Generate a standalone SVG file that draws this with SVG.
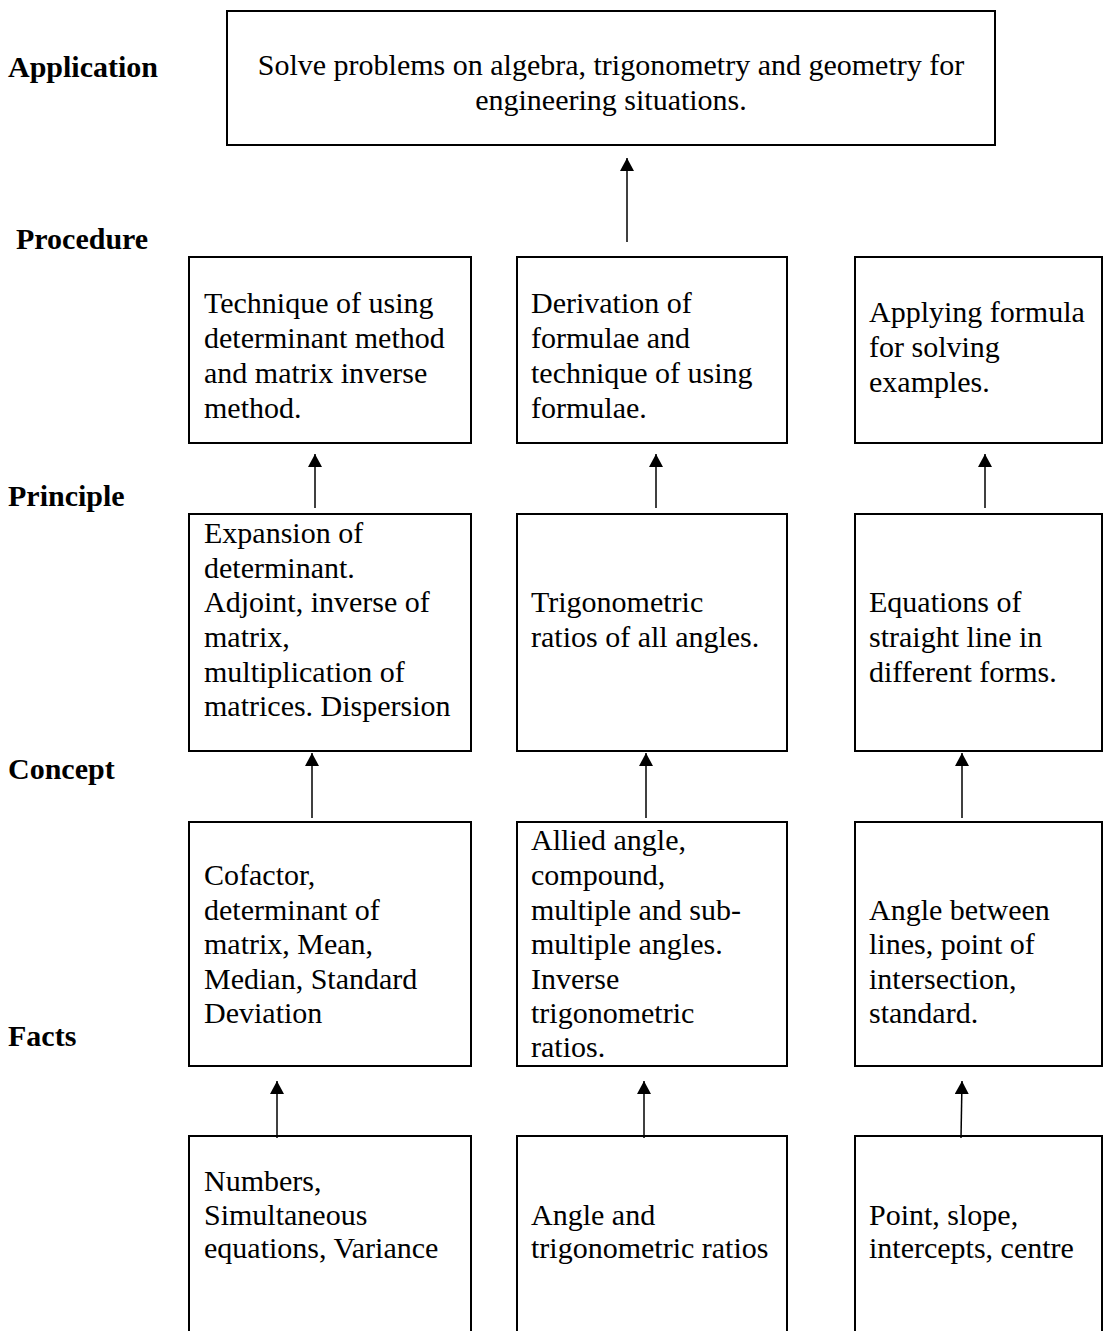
<svg xmlns="http://www.w3.org/2000/svg" width="1104" height="1331" viewBox="0 0 1104 1331">
<style>
.box{fill:#fff;stroke:#000;stroke-width:2}
.t{font-family:"Liberation Serif","Times New Roman",serif;font-size:30px;fill:#000}
.lbl{font-family:"Liberation Serif","Times New Roman",serif;font-size:30px;font-weight:bold;fill:#000}
.c{stroke:#000;stroke-width:1.5;fill:none;marker-end:url(#ah)}
</style>
<defs>
<marker id="ah" markerUnits="userSpaceOnUse" markerWidth="14" markerHeight="14" viewBox="0 0 14 14" refX="13" refY="7" orient="auto">
<path d="M0,0 L13,7 L0,14 Z" fill="#000"/>
</marker>
</defs>
<rect width="1104" height="1331" fill="#fff"/>
<g id="levels">
<text class="lbl" x="8" y="77">Application</text>
<text class="lbl" x="16" y="249">Procedure</text>
<text class="lbl" x="8" y="506">Principle</text>
<text class="lbl" x="8" y="779">Concept</text>
<text class="lbl" x="8" y="1046">Facts</text>
</g>
<g id="application">
<rect class="box" x="227" y="11" width="768" height="134"/>
<text class="t" x="611" y="75" text-anchor="middle">Solve problems on algebra, trigonometry and geometry for</text>
<text class="t" x="611" y="110" text-anchor="middle">engineering situations.</text>
</g>
<g id="proc1">
<rect class="box" x="189" y="257" width="282" height="186"/>
<text class="t" x="204" y="313">Technique of using</text>
<text class="t" x="204" y="348">determinant method</text>
<text class="t" x="204" y="383">and matrix inverse</text>
<text class="t" x="204" y="418">method.</text>
</g>
<g id="proc2">
<rect class="box" x="517" y="257" width="270" height="186"/>
<text class="t" x="531" y="313">Derivation of</text>
<text class="t" x="531" y="348">formulae and</text>
<text class="t" x="531" y="383">technique of using</text>
<text class="t" x="531" y="418">formulae.</text>
</g>
<g id="proc3">
<rect class="box" x="855" y="257" width="247" height="186"/>
<text class="t" x="869" y="322">Applying formula</text>
<text class="t" x="869" y="357">for solving</text>
<text class="t" x="869" y="392">examples.</text>
</g>
<g id="prin1">
<rect class="box" x="189" y="514" width="282" height="237"/>
<text class="t" x="204" y="543">Expansion of</text>
<text class="t" x="204" y="577.5">determinant.</text>
<text class="t" x="204" y="612">Adjoint, inverse of</text>
<text class="t" x="204" y="647">matrix,</text>
<text class="t" x="204" y="681.5">multiplication of</text>
<text class="t" x="204" y="716">matrices. Dispersion</text>
</g>
<g id="prin2">
<rect class="box" x="517" y="514" width="270" height="237"/>
<text class="t" x="531" y="612">Trigonometric</text>
<text class="t" x="531" y="647">ratios of all angles.</text>
</g>
<g id="prin3">
<rect class="box" x="855" y="514" width="247" height="237"/>
<text class="t" x="869" y="612">Equations of</text>
<text class="t" x="869" y="647">straight line in</text>
<text class="t" x="869" y="681.5">different forms.</text>
</g>
<g id="conc1">
<rect class="box" x="189" y="822" width="282" height="244"/>
<text class="t" x="204" y="885">Cofactor,</text>
<text class="t" x="204" y="919.5">determinant of</text>
<text class="t" x="204" y="954">matrix, Mean,</text>
<text class="t" x="204" y="988.5">Median, Standard</text>
<text class="t" x="204" y="1023">Deviation</text>
</g>
<g id="conc2">
<rect class="box" x="517" y="822" width="270" height="244"/>
<text class="t" x="531" y="850">Allied angle,</text>
<text class="t" x="531" y="884.5">compound,</text>
<text class="t" x="531" y="919.5">multiple and sub-</text>
<text class="t" x="531" y="954">multiple angles.</text>
<text class="t" x="531" y="988.5">Inverse</text>
<text class="t" x="531" y="1023">trigonometric</text>
<text class="t" x="531" y="1057">ratios.</text>
</g>
<g id="conc3">
<rect class="box" x="855" y="822" width="247" height="244"/>
<text class="t" x="869" y="919.5">Angle between</text>
<text class="t" x="869" y="954">lines, point of</text>
<text class="t" x="869" y="988.5">intersection,</text>
<text class="t" x="869" y="1023">standard.</text>
</g>
<g id="fact1">
<rect class="box" x="189" y="1136" width="282" height="220"/>
<text class="t" x="204" y="1191">Numbers,</text>
<text class="t" x="204" y="1224.5">Simultaneous</text>
<text class="t" x="204" y="1258">equations, Variance</text>
</g>
<g id="fact2">
<rect class="box" x="517" y="1136" width="270" height="220"/>
<text class="t" x="531" y="1224.5">Angle and</text>
<text class="t" x="531" y="1258">trigonometric ratios</text>
</g>
<g id="fact3">
<rect class="box" x="855" y="1136" width="247" height="220"/>
<text class="t" x="869" y="1224.5">Point, slope,</text>
<text class="t" x="869" y="1258">intercepts, centre</text>
</g>
<g id="connectors">
<line class="c" x1="627" y1="242" x2="627" y2="158"/>
<line class="c" x1="315" y1="508" x2="315" y2="454"/>
<line class="c" x1="656" y1="508" x2="656" y2="454"/>
<line class="c" x1="985" y1="508" x2="985" y2="454"/>
<line class="c" x1="312" y1="818" x2="312" y2="753"/>
<line class="c" x1="646" y1="818" x2="646" y2="753"/>
<line class="c" x1="962" y1="818" x2="962" y2="753"/>
<line class="c" x1="277" y1="1138" x2="277" y2="1081"/>
<line class="c" x1="644" y1="1138" x2="644" y2="1081"/>
<line class="c" x1="961" y1="1138" x2="962" y2="1081"/>
</g>
</svg>
